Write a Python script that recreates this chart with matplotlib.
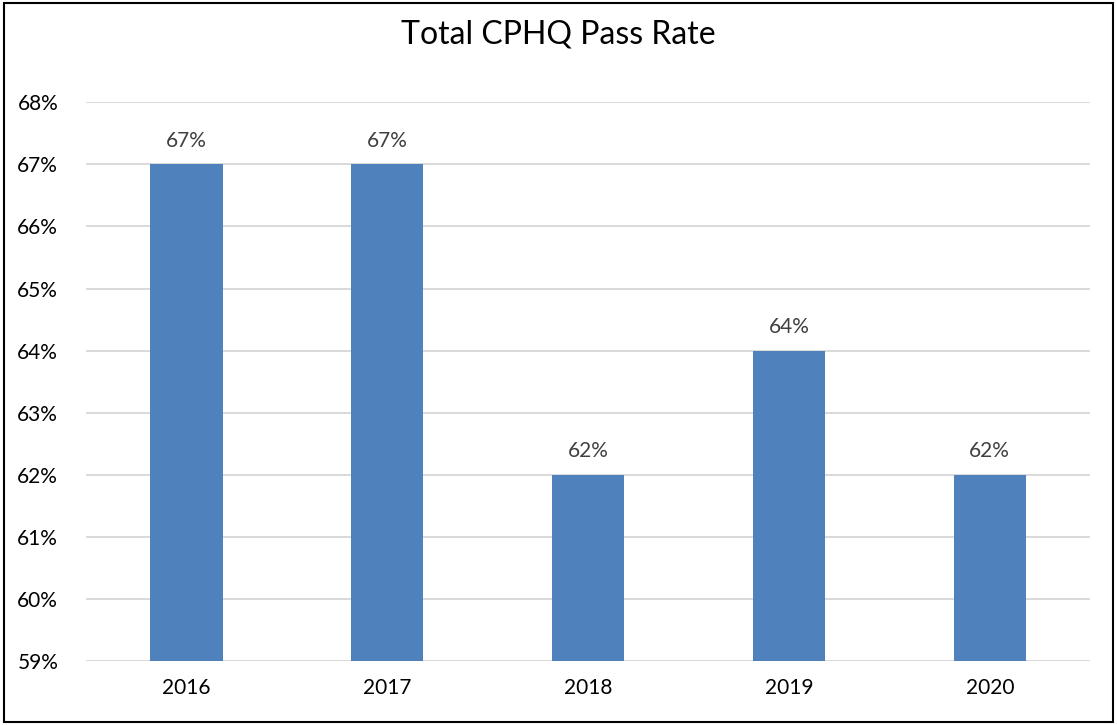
import matplotlib.pyplot as plt
from matplotlib.patches import Rectangle
from matplotlib.ticker import FuncFormatter

years = ['2016', '2017', '2018', '2019', '2020']
pass_rate = [67, 67, 62, 64, 62]

plt.rcParams['font.family'] = ['Lato', 'DejaVu Sans']

fig = plt.figure(figsize=(11.17, 7.25), dpi=100)
ax = fig.add_axes([0.077, 0.088, 0.899, 0.771])

x = range(len(years))
bars = ax.bar(x, pass_rate, width=0.36, color='#4F81BD', zorder=3)
for b, v in zip(bars, pass_rate):
    ax.text(b.get_x() + b.get_width() / 2, v + 0.22, f'{v}%', ha='center', va='bottom',
            fontsize=15, color='#404040')

ax.set_xlim(-0.5, len(years) - 0.5)
ax.set_ylim(59, 68)
ax.set_yticks(range(59, 69))
ax.yaxis.set_major_formatter(FuncFormatter(lambda v, p: f'{v:.0f}%'))
ax.set_xticks(list(x))
ax.set_xticklabels(years)
ax.grid(axis='y', color='#D9D9D9', linewidth=1.4, zorder=0)
for s in ax.spines.values():
    s.set_visible(False)
ax.tick_params(length=0, labelsize=15, colors='black')
ax.tick_params(axis='y', pad=20)
ax.tick_params(axis='x', pad=12)

fig.text(0.5, 0.952, 'Total CPHQ Pass Rate', ha='center', va='center', fontsize=23)
fig.patches.append(Rectangle((0.004, 0.004), 0.992, 0.992, transform=fig.transFigure,
                             fill=False, edgecolor='black', linewidth=1.5))

fig.savefig('out.png', dpi=100)
